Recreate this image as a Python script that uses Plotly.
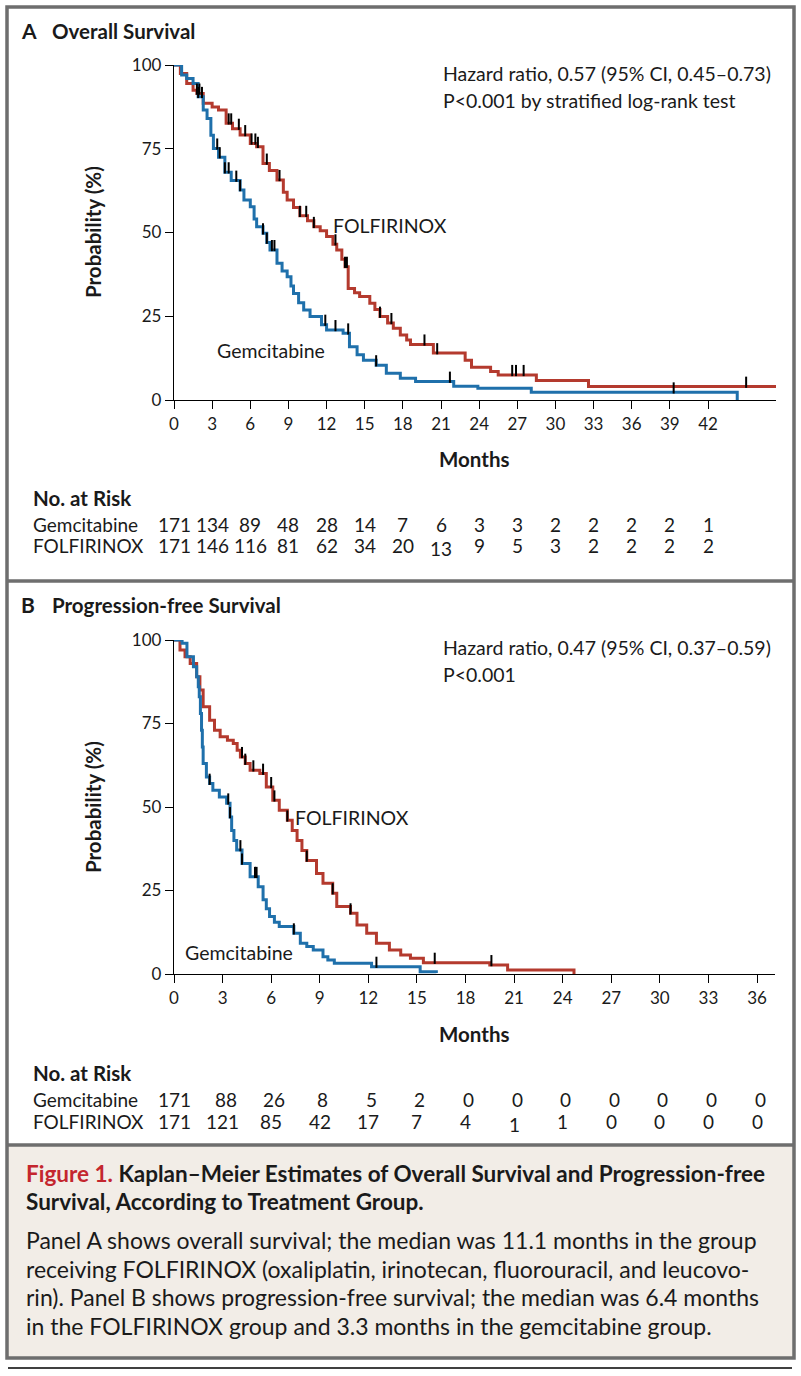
import numpy as np
import plotly.graph_objects as go

W, H = 801, 1376
FONT = "Lato"

# ---------------- DATA ----------------
# Panel A: Overall survival (step functions: time in months, survival %)
os_gem_t = [0, 0.6, 1.0, 1.5, 1.9, 2.3, 2.6, 2.9, 3.1, 3.5, 4.0, 4.5, 5.2, 5.5, 6.0, 6.3, 6.5, 7.0,
            7.3, 7.55, 8.1, 8.5, 8.9, 9.2, 9.4, 9.8, 10.2, 10.7, 11.6, 12.0, 13.3, 13.8, 14.4, 14.9,
            15.9, 16.7, 17.8, 19.0, 22.0, 23.9, 28.1, 44.3]
os_gem_s = [100, 97, 96, 94.5, 90.5, 86.6, 84, 79, 75.1, 72.5, 68, 65.5, 62.7, 59.7, 57.7, 54, 51.7, 49.8,
            47, 44.8, 40.8, 38.5, 36.8, 34, 31.8, 29, 26.9, 24.9, 22.5, 20.9, 19.9, 15.9, 13.5, 11.9,
            10.4, 8.0, 6.5, 5.5, 4.1, 3.5, 2.3, 0]
os_fol_t = [0, 0.5, 1.0, 1.5, 1.8, 2.3, 3.0, 3.5, 4.1, 4.6, 5.2, 6.0, 6.5, 7.0, 7.5, 8.1, 8.6, 8.9, 9.4,
            9.9, 10.5, 11.0, 11.5, 12.0, 12.5, 12.8, 13.2, 13.45, 13.7, 14.2, 14.6, 15.4, 15.8, 16.2, 16.8,
            17.25, 17.8, 18.3, 18.6, 20.4, 22.9, 23.4, 24.9, 25.5, 28.5, 32.6, 47.5]
os_fol_s = [100, 97.5, 94.5, 92.5, 91.5, 88.6, 87.5, 86.6, 82.6, 81, 79.1, 76.6, 75.6, 70.6, 68.5, 65.7, 62, 59.7, 57.5,
            55, 53.5, 51.7, 50.5, 48.8, 46.5, 44.8, 42, 39.8, 33.3, 32, 30.9, 28.9, 27, 24.9, 23,
            21.4, 19.4, 17.9, 16.6, 14.0, 11.9, 9.8, 8.5, 7.5, 5.8, 4.0, 4.0]
os_gem_cens = [0.3, 1.9, 2.2, 3.4, 3.6, 4.0, 4.3, 4.9, 5.2, 7.0, 7.3, 7.7, 7.9, 11.9, 12.7, 13.7, 15.9, 21.7, 39.3]
os_fol_cens = [1.8, 2.0, 4.3, 4.5, 5.1, 5.6, 6.1, 6.4, 6.6, 7.3, 8.3, 9.9, 10.4, 11.0, 12.7, 13.45, 13.6,
               16.2, 17.1, 19.7, 20.7, 26.6, 26.9, 27.5, 45.0, 47.5]

# Panel B: Progression-free survival
pfs_gem_t = [0, 0.5, 0.8, 1.2, 1.4, 1.5, 1.56, 1.63, 1.7, 1.75, 1.8, 2.0, 2.2, 2.4, 2.8, 3.25, 3.46, 3.56,
             3.7, 3.87, 4.2, 4.7, 5.2, 5.5, 5.7, 5.9, 6.2, 6.5, 7.4, 7.8, 8.2, 8.6, 9.2, 9.5, 9.9, 12.2,
             15.2, 16.2]
pfs_gem_s = [100, 99, 95, 92, 89, 86, 83, 78, 73, 68, 63, 59, 57, 55, 53, 51.1, 47, 43,
             40, 37.1, 33.1, 29.1, 26.1, 22.2, 19.5, 17.2, 15.5, 14.2, 12.2, 9.2, 8.2, 7.2, 5.2, 4.2, 3.2, 2.2,
             0.7, 0.3]
pfs_fol_t = [0, 0.37, 0.68, 1.0, 1.4, 1.6, 1.8, 2.2, 2.5, 2.85, 3.3, 3.66, 3.9, 4.1, 4.4, 4.7, 5.3, 5.7,
             6.1, 6.5, 7.0, 7.3, 7.6, 7.9, 8.2, 8.8, 9.2, 9.8, 10.05, 10.9, 11.3, 11.9, 12.5, 13.3, 14.0,
             14.6, 15.4, 19.5, 20.6, 24.7]
pfs_fol_s = [100, 97, 95, 93, 89, 85, 80, 76, 73, 71, 70, 69, 67, 65, 63, 61, 60, 56,
             52, 49, 46, 43, 40, 37, 34, 30.1, 27.2, 24.2, 20.2, 18.2, 14.7, 12.2, 9.2, 7.2, 5.7,
             4.7, 3.4, 2.7, 1.2, 0]
pfs_gem_cens = [0.5, 2.2, 3.35, 3.46, 4.1, 4.2, 5.0, 5.1, 7.4, 12.5]
pfs_fol_cens = [4.2, 4.4, 4.9, 5.5, 6.0, 6.2, 7.0, 8.2, 9.8, 10.9, 16.1, 19.6]

os_ticks = list(range(0, 43, 3))
pfs_ticks = list(range(0, 37, 3))
os_risk_gem = [171, 134, 89, 48, 28, 14, 7, 6, 3, 3, 2, 2, 2, 2, 1]
os_risk_fol = [171, 146, 116, 81, 62, 34, 20, 13, 9, 5, 3, 2, 2, 2, 2]
pfs_risk_gem = [171, 88, 26, 8, 5, 2, 0, 0, 0, 0, 0, 0, 0]
pfs_risk_fol = [171, 121, 85, 42, 17, 7, 4, 1, 1, 0, 0, 0, 0]

groups = ["Gemcitabine", "FOLFIRINOX"]
os_hr_text = ["Hazard ratio, 0.57 (95% CI, 0.45–0.73)", "P<0.001 by stratified log-rank test"]
pfs_hr_text = ["Hazard ratio, 0.47 (95% CI, 0.37–0.59)", "P<0.001"]

# ---------------- STYLE ----------------
BLUE = "#1f70ab"
RED = "#b43a2e"
FRAME = "#6e6e6e"
CAP_BG = "#f2ede7"
FIG_RED = "#c4262e"
TXT = "#1a1a1a"
PAD = 3  # annotation inner padding compensation


def px_x(x):
    return x / W


def px_y(y):
    return 1 - y / H


def step_at(ts, ss, t):
    i = np.searchsorted(np.array(ts), t, side="right") - 1
    return np.array(ss)[np.clip(i, 0, len(ss) - 1)]


fig = go.Figure()

panels = [
    dict(xa="x", ya="y", gem=(os_gem_t, os_gem_s, os_gem_cens), fol=(os_fol_t, os_fol_s, os_fol_cens)),
    dict(xa="x2", ya="y2", gem=(pfs_gem_t, pfs_gem_s, pfs_gem_cens), fol=(pfs_fol_t, pfs_fol_s, pfs_fol_cens)),
]
for p in panels:
    for key, col in (("fol", RED), ("gem", BLUE)):
        t, s, c = p[key]
        fig.add_trace(go.Scatter(x=t, y=s, mode="lines", line=dict(color=col, width=3, shape="hv"),
                                 xaxis=p["xa"], yaxis=p["ya"], showlegend=False, hoverinfo="skip"))
    for key in ("fol", "gem"):
        t, s, c = p[key]
        cy = step_at(t, s, np.array(c)) + 1.3
        fig.add_trace(go.Scatter(x=c, y=cy, mode="markers",
                                 marker=dict(symbol="line-ns", size=8, line=dict(color="black", width=2)),
                                 xaxis=p["xa"], yaxis=p["ya"], showlegend=False, hoverinfo="skip",
                                 cliponaxis=False))

# Axes
A_top, A_bot = 65, 400
B_top, B_bot = 640, 974
X0 = 174
A_end = 776
B_end = 775
A_range = (A_end - X0) / ((708 - X0) / 42)
B_range = (B_end - X0) / ((757 - X0) / 36)

common_x = dict(showline=True, linecolor="black", linewidth=1.3, ticks="outside", ticklen=8,
                tickwidth=1.3, tickcolor="black", showgrid=False, zeroline=False, automargin=False,
                tickfont=dict(family=FONT, size=17, color=TXT), fixedrange=True)
common_y = dict(showline=True, linecolor="black", linewidth=1.3, ticks="outside", ticklen=8,
                tickwidth=1.3, tickcolor="black", showgrid=False, zeroline=False, automargin=False,
                tickvals=[0, 25, 50, 75, 100], range=[0, 100],
                tickfont=dict(family=FONT, size=17, color=TXT), fixedrange=True)

fig.update_layout(
    template="none",
    width=W, height=H, margin=dict(l=0, r=0, t=0, b=0, pad=0, autoexpand=False),
    paper_bgcolor="white", plot_bgcolor="rgba(0,0,0,0)", showlegend=False,
    xaxis=dict(domain=[px_x(X0), px_x(A_end)], range=[0, A_range], tickvals=os_ticks, anchor="y", **common_x),
    yaxis=dict(domain=[px_y(A_bot), px_y(A_top)], anchor="x", **common_y),
    xaxis2=dict(domain=[px_x(X0), px_x(B_end)], range=[0, B_range], tickvals=pfs_ticks, anchor="y2", **common_x),
    yaxis2=dict(domain=[px_y(B_bot), px_y(B_top)], anchor="x2", **common_y),
)

shapes = []
shapes.append(dict(type="rect", xref="paper", yref="paper", x0=px_x(7), x1=px_x(794), y0=px_y(1358), y1=px_y(1145),
                   fillcolor=CAP_BG, line=dict(width=0), layer="below"))
shapes.append(dict(type="rect", xref="paper", yref="paper", x0=px_x(7), x1=px_x(794), y0=px_y(1358), y1=px_y(7),
                   line=dict(color=FRAME, width=3.5)))
for yy in (581, 1145):
    shapes.append(dict(type="line", xref="paper", yref="paper", x0=px_x(7), x1=px_x(794), y0=px_y(yy), y1=px_y(yy),
                       line=dict(color=FRAME, width=3.5)))
shapes.append(dict(type="line", xref="paper", yref="paper", x0=px_x(8), x1=px_x(792), y0=px_y(1368), y1=px_y(1368),
                   line=dict(color="black", width=1.5)))
fig.update_layout(shapes=shapes)

ann = []


def text(x, y, s, size=19.5, bold=False, xanchor="left", color=TXT, **kw):
    xx = x - PAD if xanchor == "left" else x
    ann.append(dict(xref="paper", yref="paper", x=px_x(xx), y=px_y(y), text=("<b>%s</b>" % s) if bold else s,
                    showarrow=False, xanchor=xanchor, yanchor="middle",
                    font=dict(family=FONT, size=size, color=color), **kw))


def ylabel(y):
    ann.append(dict(xref="paper", yref="paper", x=px_x(93), y=px_y(y), text="<b>Probability (%)</b>",
                    showarrow=False, textangle=-90, xanchor="center", yanchor="middle",
                    font=dict(family=FONT, size=20.5, color=TXT)))


# Panel A
text(22, 31, "A", size=21, bold=True)
text(53, 31, "Overall Survival", size=20.5, bold=True)
text(444, 73, os_hr_text[0])
text(444, 101, os_hr_text[1])
text(334, 225, groups[1])
text(218, 351, groups[0])
text(474, 459, "Months", size=20.5, bold=True, xanchor="center")
ylabel(232)
text(34, 498, "No. at Risk", size=20.5, bold=True)
text(34, 524, groups[0], size=19)
text(34, 546, groups[1], size=19)
for tk, g, f in zip(os_ticks, os_risk_gem, os_risk_fol):
    ann.append(dict(xref="x", yref="paper", x=tk, y=px_y(524), text=str(g), showarrow=False, xanchor="center",
                    yanchor="middle", font=dict(family=FONT, size=19, color=TXT)))
    ann.append(dict(xref="x", yref="paper", x=tk, y=px_y(546), text=str(f), showarrow=False, xanchor="center",
                    yanchor="middle", font=dict(family=FONT, size=19, color=TXT),
                    yshift=-3 if tk == 21 else 0))

# Panel B
text(22, 605, "B", size=21, bold=True)
text(53, 605, "Progression-free Survival", size=20.5, bold=True)
text(444, 648, pfs_hr_text[0])
text(444, 675, pfs_hr_text[1])
text(296, 817, groups[1])
text(186, 953, groups[0])
text(474, 1034, "Months", size=20.5, bold=True, xanchor="center")
ylabel(807)
text(34, 1073, "No. at Risk", size=20.5, bold=True)
text(34, 1099, groups[0], size=19)
text(34, 1121, groups[1], size=19)
for tk, g, f in zip(pfs_ticks, pfs_risk_gem, pfs_risk_fol):
    ann.append(dict(xref="x2", yref="paper", x=tk, y=px_y(1099), text=str(g), showarrow=False, xanchor="center",
                    yanchor="middle", font=dict(family=FONT, size=19, color=TXT), xshift=3 if tk else 0))
    ann.append(dict(xref="x2", yref="paper", x=tk, y=px_y(1121), text=str(f), showarrow=False, xanchor="center",
                    yanchor="middle", font=dict(family=FONT, size=19, color=TXT),
                    yshift=-3 if tk == 21 else 0))

# Caption
text(27, 1173, "<b><span style='color:%s'>Figure 1.</span> Kaplan–Meier Estimates of Overall Survival and Progression-free</b>" % FIG_RED, size=22.5)
text(27, 1201, "<b>Survival, According to Treatment Group.</b>", size=22.5)
body = ["Panel A shows overall survival; the median was 11.1 months in the group",
        "receiving FOLFIRINOX (oxaliplatin, irinotecan, fluorouracil, and leucovo-",
        "rin). Panel B shows progression-free survival; the median was 6.4 months",
        "in the FOLFIRINOX group and 3.3 months in the gemcitabine group."]
for i, line in enumerate(body):
    text(27, 1240 + i * 28.5, line, size=23)

fig.update_layout(annotations=ann)
fig.write_html("out.html")
